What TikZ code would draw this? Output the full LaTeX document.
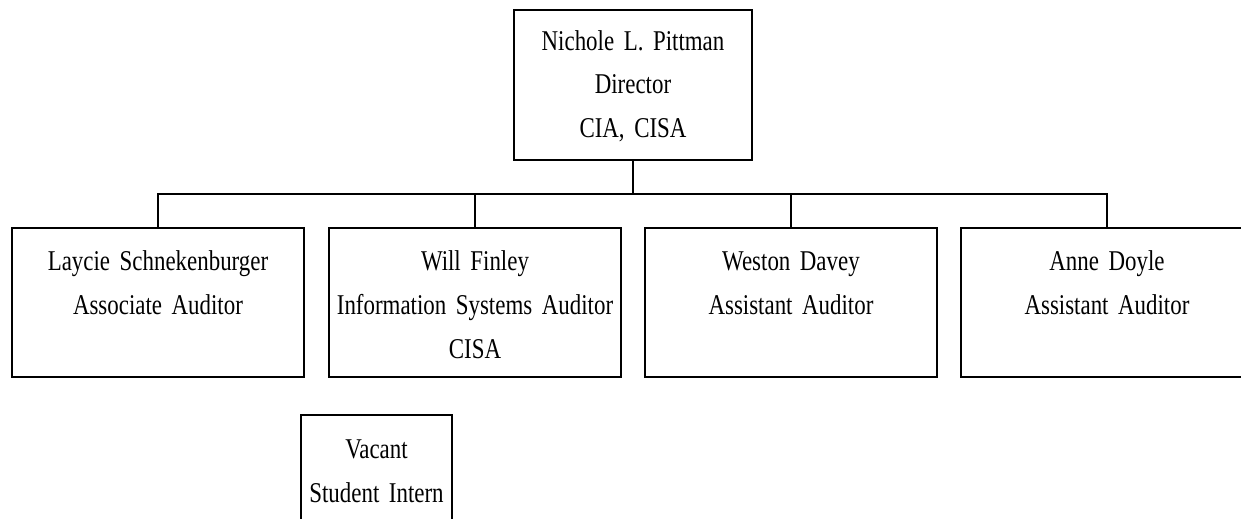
\documentclass[tikz,border=0pt]{standalone}
\usepackage{fontspec}
\setmainfont{Liberation Serif}[FakeStretch=0.8, WordSpace=0.8]

\tikzset{orgbox/.style={draw, line width=1.1pt, inner sep=0pt, align=center, text width=5.84cm, text height=0.86cm, text depth=2.12cm, font=\fontsize{16.3}{25}\selectfont}}
\tikzset{conn/.style={line width=1.1pt}}

\begin{document}
\begin{tikzpicture}[]
    \clip (0,0) rectangle (24.82,-10.36);

    \node[orgbox, text width=4.76cm, text height=0.80cm, text depth=2.20cm](director) at (12.66,-1.70) {Nichole L. Pittman\\Director\\CIA, CISA};

    \node[orgbox, anchor=north] (lay) at ([yshift=-1.32cm, xshift=-9.5cm] director.south) {Laycie Schnekenburger\\Associate Auditor};
    \node[orgbox, anchor=north] (finley) at ([yshift=-1.32cm, xshift=-3.16cm] director.south) {Will Finley\\Information Systems Auditor\\CISA};
    \node[orgbox, anchor=north] (davey) at ([yshift=-1.32cm, xshift=3.16cm] director.south) {Weston Davey\\Assistant Auditor};
    \node[orgbox, anchor=north] (doyle) at ([yshift=-1.32cm, xshift=9.48cm] director.south) {Anne Doyle\\Assistant Auditor};

    \node[orgbox, anchor=north, text width=3.02cm, text height=0.88cm, text depth=2.10cm] (intern) at ([yshift=-0.72cm, xshift=-1.97cm] finley.south) {Vacant\\Student Intern};

    \coordinate (bus) at ([yshift=-0.66cm] director.south);

    \draw[conn] (director.south) -- (bus);
    \foreach \n in {lay, finley, davey, doyle}
        \draw[conn] (\n.north) |- (bus);

\end{tikzpicture}
\end{document}
